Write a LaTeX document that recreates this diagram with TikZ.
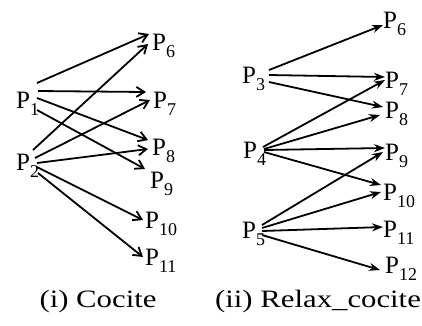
\documentclass[tikz,border=0pt]{standalone}
\usepackage{fontspec}
\setmainfont{Liberation Serif}
\usetikzlibrary{arrows.meta}
\newcommand\plab[1]{P\raisebox{-7pt}{\fontsize{18}{18}\selectfont #1}}
\begin{document}
\begin{tikzpicture}[x=1pt,y=-1pt,
  lab/.style={anchor=base west,inner sep=0pt,font=\fontsize{25}{25}\selectfont},
  captext/.style={anchor=base,inner sep=0pt,font=\fontsize{25}{25}\selectfont},
  opena/.style={line width=1.8pt,-{Straight Barb[length=8pt,width=10pt]}},
  fulla/.style={line width=1.8pt,-{Stealth[length=11pt,width=8pt]}}]
\fill[white] (0,0) rectangle (422,325);
\useasboundingbox (0,0) rectangle (422,325);
% left panel
\node[lab] (L1) at (16,108) {\plab{1}};
\node[lab] (L2) at (16,170) {\plab{2}};
\node[lab] (L6) at (152,50) {\plab{6}};
\node[lab] (L7) at (153,108) {\plab{7}};
\node[lab] (L8) at (152,155) {\plab{8}};
\node[lab] (L9) at (150,188) {\plab{9}};
\node[lab] (L10) at (145,228) {\plab{10}};
\node[lab] (L11) at (145,265) {\plab{11}};
\node[captext] (C1) at (98,307) {\scalebox{1.23}[1]{(i) Cocite}};
\draw[opena] ([shift={(21,-25)}]L1.base west) -- ([shift={(-3,-16)}]L6.base west);
\draw[opena] ([shift={(22,-17)}]L1.base west) -- ([shift={(-7,-16)}]L7.base west);
\draw[opena] ([shift={(21,-10)}]L1.base west) -- ([shift={(-4,-15)}]L8.base west);
\draw[opena] ([shift={(21,2)}]L1.base west) -- ([shift={(-5,-19)}]L9.base west);
\draw[opena] ([shift={(17,-20)}]L2.base west) -- ([shift={(-4,-6)}]L6.base west);
\draw[opena] ([shift={(19,-12)}]L2.base west) -- ([shift={(-3,-8)}]L7.base west);
\draw[opena] ([shift={(21,-7)}]L2.base west) -- ([shift={(-4,-6)}]L8.base west);
\draw[opena] ([shift={(21,-3)}]L2.base west) -- ([shift={(-2,-8)}]L10.base west);
\draw[opena] ([shift={(22,3)}]L2.base west) -- ([shift={(-2,-8)}]L11.base west);
% right panel
\node[lab] (R3) at (242,83) {\plab{3}};
\node[lab] (R4) at (243,158) {\plab{4}};
\node[lab] (R5) at (242,238) {\plab{5}};
\node[lab] (R6) at (383,28) {\plab{6}};
\node[lab] (R7) at (385,88) {\plab{7}};
\node[lab] (R8) at (385,118) {\plab{8}};
\node[lab] (R9) at (385,160) {\plab{9}};
\node[lab] (R10) at (383,200) {\plab{10}};
\node[lab] (R11) at (383,237) {\plab{11}};
\node[lab] (R12) at (385,273) {\plab{12}};
\node[captext] (C2) at (318,307) {\scalebox{1.23}[1]{(ii) Relax\_cocite}};
\draw[fulla] ([shift={(27,-13)}]R3.base west) -- ([shift={(0,-3)}]R6.base west);
\draw[fulla] ([shift={(27,-8)}]R3.base west) -- ([shift={(0,-11)}]R7.base west);
\draw[fulla] ([shift={(27,-1)}]R3.base west) -- ([shift={(-2,-11)}]R8.base west);
\draw[fulla] ([shift={(20,-11)}]R4.base west) -- ([shift={(0,-8)}]R7.base west);
\draw[fulla] ([shift={(21,-9)}]R4.base west) -- ([shift={(-5,-3)}]R8.base west);
\draw[fulla] ([shift={(21,-8)}]R4.base west) -- ([shift={(0,-12)}]R9.base west);
\draw[fulla] ([shift={(21,-6)}]R4.base west) -- ([shift={(-2,-15)}]R10.base west);
\draw[fulla] ([shift={(20,-13)}]R5.base west) -- ([shift={(-2,-8)}]R9.base west);
\draw[fulla] ([shift={(20,-10)}]R5.base west) -- ([shift={(-2,-8)}]R10.base west);
\draw[fulla] ([shift={(20,-7)}]R5.base west) -- ([shift={(0,-10)}]R11.base west);
\draw[fulla] ([shift={(20,-3)}]R5.base west) -- ([shift={(-5,-3)}]R12.base west);
\end{tikzpicture}
\end{document}
